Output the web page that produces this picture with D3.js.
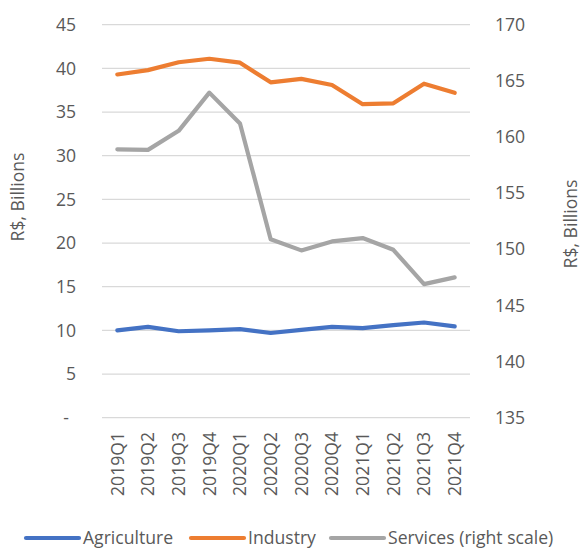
<!DOCTYPE html>
<html><head><meta charset="utf-8">
<script src="https://cdn.jsdelivr.net/npm/d3@7"></script>
<style>body{margin:0;background:#fff;} svg{display:block;font-family:"Open Sans","Noto Sans",sans-serif;}</style>
</head><body>
<svg id="c" width="581" height="548"></svg>
<script>
const categories = ["2019Q1","2019Q2","2019Q3","2019Q4","2020Q1","2020Q2","2020Q3","2020Q4","2021Q1","2021Q2","2021Q3","2021Q4"];
const agriculture = [10.0,10.4,9.9,10.0,10.15,9.7,10.05,10.4,10.25,10.6,10.9,10.45];
const industry = [39.3,39.8,40.7,41.1,40.65,38.4,38.8,38.1,35.9,36.0,38.25,37.2];
const services = [158.9,158.85,160.55,163.95,161.2,150.9,149.9,150.7,151.0,149.95,146.9,147.5];
const leftTicks = [0,5,10,15,20,25,30,35,40,45];
const rightTicks = [135,140,145,150,155,160,165,170];
const seriesNames = ["Agriculture","Industry","Services (right scale)"];
const colors = ["#4472C4","#ED7D31","#A5A5A5"];

const FS = 17.6;
const svg = d3.select("#c");
const x = d3.scaleBand().domain(categories).range([102,470]);
const yL = d3.scaleLinear().domain([0,45]).range([417.7,24.7]);
const yR = d3.scaleLinear().domain([135,170]).range([417.7,24.7]);
const tc = "#595959";

// gridlines
svg.append("g").selectAll("line").data(leftTicks).join("line")
  .attr("x1",102).attr("x2",470).attr("y1",d=>yL(d)).attr("y2",d=>yL(d))
  .attr("stroke","#D9D9D9").attr("stroke-width",1.3);

// left axis labels
const gl = svg.append("g").attr("transform","translate(76,0)")
  .call(d3.axisLeft(yL).tickValues(leftTicks).tickSize(0).tickPadding(0).tickFormat(d=>d===0?"-":d));
gl.select(".domain").remove();
gl.selectAll("text").attr("font-size",FS).attr("fill",tc).attr("font-family","Open Sans, Noto Sans, sans-serif").attr("dx", d=>d===0?"-7":"0");

// right axis labels
const gr = svg.append("g").attr("transform","translate(495,0)")
  .call(d3.axisRight(yR).tickValues(rightTicks).tickSize(0).tickPadding(0));
gr.select(".domain").remove();
gr.selectAll("text").attr("font-size",FS).attr("fill",tc).attr("font-family","Open Sans, Noto Sans, sans-serif");

// x labels
const gx = svg.append("g")
  .call(d3.axisBottom(x).tickSize(0).tickPadding(0));
gx.select(".domain").remove();
gx.selectAll(".tick").attr("transform",d=>`translate(${x(d)+x.bandwidth()/2},432)`);
gx.selectAll("text").attr("font-size",FS).attr("fill",tc).attr("font-family","Open Sans, Noto Sans, sans-serif")
  .attr("transform","rotate(-90)").attr("text-anchor","end").attr("dy","0.35em").attr("x",0).attr("y",0);

// axis titles
svg.append("text").attr("transform","translate(24,197) rotate(-90)").attr("text-anchor","middle")
  .attr("font-size",FS).attr("fill",tc).text("R$, Billions");
svg.append("text").attr("transform","translate(577,224) rotate(-90)").attr("text-anchor","middle")
  .attr("font-size",FS).attr("fill",tc).text("R$, Billions");

// lines
const cx = d=>x(d)+x.bandwidth()/2;
const data = [
  {vals:agriculture, y:yL},
  {vals:industry, y:yL},
  {vals:services, y:yR}
];
data.forEach((s,i)=>{
  const line = d3.line().x((v,j)=>cx(categories[j])).y(v=>s.y(v));
  svg.append("path").datum(s.vals).attr("d",line).attr("fill","none")
    .attr("stroke",colors[i]).attr("stroke-width",4.2).attr("stroke-linejoin","round").attr("stroke-linecap","round");
});

// legend
const legX = [26,191,331];
const lg = svg.append("g");
seriesNames.forEach((n,i)=>{
  lg.append("line").attr("x1",legX[i]).attr("x2",legX[i]+53).attr("y1",538).attr("y2",538)
    .attr("stroke",colors[i]).attr("stroke-width",4.2).attr("stroke-linecap","round");
  lg.append("text").attr("x",legX[i]+57).attr("y",538).attr("dy","0.35em")
    .attr("font-size",FS).attr("fill",tc).text(n);
});
</script>
</body></html>
